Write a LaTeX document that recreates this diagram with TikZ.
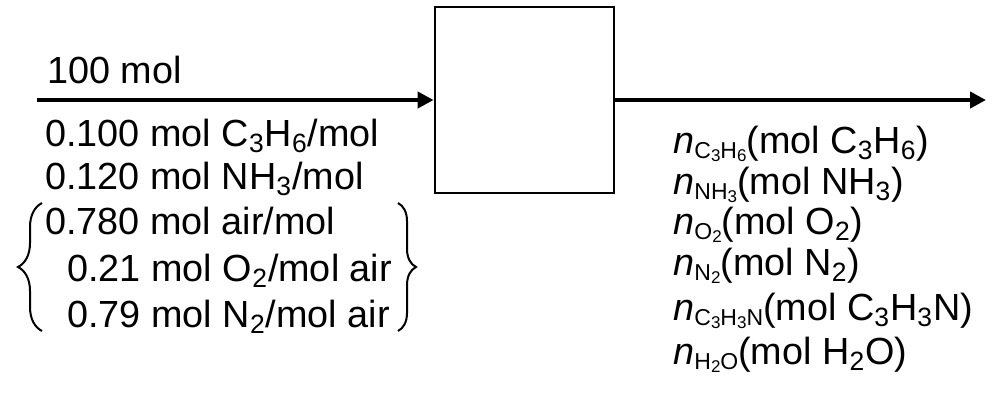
\documentclass[tikz,border=0pt]{standalone}
\usepackage{fontspec}
\setmainfont{Liberation Sans}
\usetikzlibrary{arrows.meta,decorations.pathreplacing}

\newcommand{\sub}[1]{\textsubscript{#1}}
% small lowered index on the molar amounts n
\newcommand{\nsub}[1]{\raisebox{-2.5pt}{\fontsize{11.5}{12}\selectfont #1}}
\newcommand{\nsubsub}[1]{\raisebox{-1.5pt}{\fontsize{8.5}{9}\selectfont #1}}

\tikzset{
  label/.style={anchor=base west,inner sep=0pt,font=\fontsize{18.9}{22}\selectfont},
  stream/.style={line width=2pt,-{Triangle[length=8pt,width=8pt]}},
  unit/.style={draw,line width=1.4pt,minimum width=89.5pt,minimum height=93pt,inner sep=0pt},
  curly/.style={line width=1pt,decorate,decoration={brace,amplitude=#1}}
}

\begin{document}
\begin{tikzpicture}[x=0.5pt,y=-0.5pt]
\useasboundingbox (0,0) rectangle (986,393);

% reactor and its two streams
\node[unit] (reactor) at (524.5,100) {};
\coordinate (feed) at (37,100);
\coordinate (product) at (986,100);
\draw[stream] (feed) -- (reactor.west);
\draw[stream] (reactor.east) -- (product);

% feed stream
\node[label] (ntot) at (47,83) {100 mol};
\node[label] (yc3h6) at (45,146) {0.100 mol C\sub{3}H\sub{6}/mol};
\node[label] (ynh3) at (45,189) {0.120 mol NH\sub{3}/mol};
\node[label] (yair) at (45,234) {0.780 mol air/mol};
\node[label] (yo2) at (67,281) {0.21 mol O\sub{2}/mol air};
\node[label] (yn2) at (67,327) {0.79 mol N\sub{2}/mol air};

% braces round the air composition
\coordinate (lbot) at (42,331);
\coordinate (ltop) at (42,203);
\coordinate (rtop) at (398,203);
\coordinate (rbot) at (398,331);
\draw[curly=12pt] (lbot) -- (ltop);
\draw[curly=9pt] (rtop) -- (rbot);

% product stream
\node[label] (nc3h6) at (673,153) {\textit{n}\nsub{C\nsubsub{3}H\nsubsub{6}}(mol C\sub{3}H\sub{6})};
\node[label] (nnh3) at (673,194) {\textit{n}\nsub{NH\nsubsub{3}}(mol NH\sub{3})};
\node[label] (no2) at (673,234) {\textit{n}\nsub{O\nsubsub{2}}(mol O\sub{2})};
\node[label] (nn2) at (673,275) {\textit{n}\nsub{N\nsubsub{2}}(mol N\sub{2})};
\node[label] (nc3h3n) at (673,320) {\textit{n}\nsub{C\nsubsub{3}H\nsubsub{3}N}(mol C\sub{3}H\sub{3}N)};
\node[label] (nh2o) at (673,364) {\textit{n}\nsub{H\nsubsub{2}O}(mol H\sub{2}O)};
\end{tikzpicture}
\end{document}
